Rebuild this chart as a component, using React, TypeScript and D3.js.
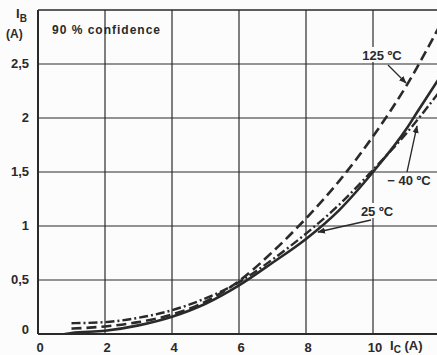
import React from "react";
import * as d3 from "d3";

const W = 437;
const H = 355;

const xTicks = [0, 2, 4, 6, 8, 10];
const yTicks = [0, 0.5, 1, 1.5, 2, 2.5];
const yTickLabels = ["0", "0,5", "1", "1,5", "2", "2,5"];

const ic25 = [0.8, 1, 2, 3, 4, 5, 6, 7, 8, 9, 10, 11, 11.35, 12];
const ib25 = [0.0, 0.01, 0.03, 0.08, 0.16, 0.28, 0.45, 0.66, 0.88, 1.15, 1.5, 1.9, 2.07, 2.38];

const icM40 = [1, 2, 3, 4, 5, 6, 7, 8, 9, 10, 11, 12];
const ibM40 = [0.1, 0.11, 0.15, 0.22, 0.33, 0.48, 0.69, 0.93, 1.2, 1.52, 1.86, 2.25];

const ic125 = [1, 2, 3, 4, 5, 6, 7, 8, 9, 10, 11, 12];
const ib125 = [0.05, 0.07, 0.11, 0.18, 0.3, 0.49, 0.76, 1.07, 1.42, 1.83, 2.3, 2.86];

export default function App() {
  const x = d3.scaleLinear().domain([0, 12]).range([38, 440]);
  const y = d3.scaleLinear().domain([0, 3]).range([334, 10]);

  const line = d3
    .line<[number, number]>()
    .x((d) => x(d[0]))
    .y((d) => y(d[1]))
    .curve(d3.curveMonotoneX);

  const d25 = line(ic25.map((v, i) => [v, ib25[i]]));
  const dM40 = line(icM40.map((v, i) => [v, ibM40[i]]));
  const d125 = line(ic125.map((v, i) => [v, ib125[i]]));

  const ink = "#2a2a2a";
  const bg = "#fcfcfc";
  const font = "'Liberation Sans', Arial, sans-serif";

  return (
    <svg
      width={W}
      height={H}
      style={{ position: "absolute", left: 0, top: 0, background: bg }}
      fontFamily={font}
    >
      <defs>
        <clipPath id="plot">
          <rect x={x(0)} y={y(3)} width={W - x(0)} height={y(0) - y(3)} />
        </clipPath>
        <marker id="arr" viewBox="0 0 10 10" refX="9" refY="5" markerWidth="6" markerHeight="6" orient="auto">
          <path d="M0,1 L10,5 L0,9 z" fill={ink} />
        </marker>
      </defs>

      {/* grid */}
      {xTicks.slice(1).map((t) => (
        <line key={"gx" + t} x1={x(t)} x2={x(t)} y1={y(3)} y2={y(0)} stroke={ink} strokeWidth={1.2} />
      ))}
      {yTicks.slice(1).map((t) => (
        <line key={"gy" + t} x1={x(0)} x2={W} y1={y(t)} y2={y(t)} stroke={ink} strokeWidth={1.2} />
      ))}
      {/* frame */}
      <line x1={x(0)} x2={W} y1={y(3)} y2={y(3)} stroke={ink} strokeWidth={1.6} />
      <line x1={x(0)} x2={W} y1={y(0)} y2={y(0)} stroke={ink} strokeWidth={2} />
      <line x1={x(0)} x2={x(0)} y1={y(3)} y2={y(0)} stroke={ink} strokeWidth={2} />

      {/* label backgrounds */}
      <rect x={355} y={47} width={55} height={15} fill={bg} />
      <rect x={355} y={203} width={44} height={15} fill={bg} />

      {/* curves */}
      <g clipPath="url(#plot)" fill="none" stroke={ink} strokeWidth={2.6}>
        <path d={d25 || ""} />
        <path d={dM40 || ""} strokeDasharray="9 3 2 3" strokeWidth={2.4} />
        <path d={d125 || ""} strokeDasharray="10 5" />
      </g>

      {/* annotations */}
      <g fill={ink} fontWeight="bold" fontSize={13}>
        <text x={382} y={60} textAnchor="middle">125 ºC</text>
        <line x1={388} y1={65} x2={406} y2={83} stroke={ink} strokeWidth={1.3} markerEnd="url(#arr)" />
        <text x={409} y={185} textAnchor="middle">− 40 ºC</text>
        <line x1={407} y1={172} x2={417} y2={126} stroke={ink} strokeWidth={1.3} markerEnd="url(#arr)" />
        <text x={377} y={216} textAnchor="middle">25 ºC</text>
        <line x1={371} y1={220} x2={318} y2={232} stroke={ink} strokeWidth={1.3} markerEnd="url(#arr)" />
      </g>

      <text x={52} y={34} fill={ink} fontWeight="bold" fontSize={12} textLength={108} lengthAdjust="spacing">
        90 % confidence
      </text>

      {/* y axis labels */}
      <g fill={ink} fontWeight="bold" fontSize={13}>
        {yTicks.map((t, i) => (
          <text key={"yl" + t} x={29} y={t === 0 ? y(t) : y(t) + 4} textAnchor="end">{yTickLabels[i]}</text>
        ))}
        <text x={16} y={18}>I<tspan fontSize={10} dy={4}>B</tspan></text>
        <text x={6} y={38} fontSize={12}>(A)</text>
      </g>

      {/* x axis labels */}
      <g fill={ink} fontWeight="bold" fontSize={13}>
        {xTicks.map((t) => (
          <text key={"xl" + t} x={x(t) + 2} y={352} textAnchor="middle">{t}</text>
        ))}
        <text x={390} y={350}>I<tspan fontSize={10} dy={3}>C</tspan><tspan dy={-3}> (A)</tspan></text>
      </g>
    </svg>
  );
}
